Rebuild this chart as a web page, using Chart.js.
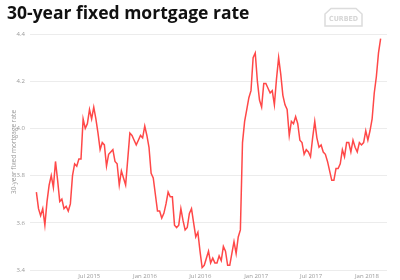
<!DOCTYPE html>
<html>
<head>
<meta charset="utf-8">
<script src="https://cdn.jsdelivr.net/npm/chart.js@4"></script>
<style>
  body { margin: 0; background: #fff; }
</style>
</head>
<body>
<canvas id="rateChart" width="400" height="280"></canvas>
<script>
// weekly Freddie Mac readings, first week below
const startDate = '2015-01-08';
const rates2015 = [3.73, 3.66, 3.63, 3.66, 3.59, 3.69, 3.76, 3.80, 3.75, 3.86, 3.78, 3.69, 3.70,
    3.66, 3.67, 3.65, 3.68, 3.80, 3.85, 3.84, 3.87, 3.87, 4.04, 4.00, 4.02, 4.08, 4.04, 4.09,
    4.04, 3.98, 3.91, 3.94, 3.93, 3.84, 3.89, 3.90, 3.91, 3.86, 3.85, 3.76, 3.82, 3.79, 3.76,
    3.87, 3.98, 3.97, 3.95, 3.93, 3.95, 3.97, 3.96, 4.01];
const rates2016 = [3.97, 3.92, 3.81, 3.79, 3.72, 3.65, 3.65, 3.62, 3.64, 3.68, 3.73, 3.71, 3.71,
    3.59, 3.58, 3.59, 3.66, 3.61, 3.57, 3.58, 3.64, 3.66, 3.60, 3.54, 3.56, 3.48, 3.41, 3.42,
    3.45, 3.48, 3.43, 3.45, 3.43, 3.43, 3.46, 3.44, 3.50, 3.48, 3.42, 3.42, 3.47, 3.52, 3.47,
    3.54, 3.57, 3.94, 4.03, 4.08, 4.13, 4.16, 4.30, 4.32];
const rates2017 = [4.20, 4.12, 4.09, 4.19, 4.19, 4.17, 4.15, 4.16, 4.10, 4.21, 4.30, 4.23, 4.14,
    4.10, 4.08, 3.97, 4.03, 4.02, 4.05, 4.02, 3.95, 3.94, 3.89, 3.91, 3.90, 3.88, 3.96, 4.03,
    3.96, 3.92, 3.93, 3.90, 3.89, 3.86, 3.82, 3.78, 3.78, 3.83, 3.83, 3.85, 3.91, 3.88, 3.94,
    3.94, 3.90, 3.95, 3.92, 3.90, 3.94, 3.93, 3.94, 3.99];
const rates2018 = [3.95, 3.99, 4.04, 4.15, 4.22, 4.32, 4.38];

const tickDates = ['2015-07-01', '2016-01-01', '2016-07-01', '2017-01-01', '2017-07-01', '2018-01-01'];
const tickLabels = ['Jul 2015', 'Jan 2016', 'Jul 2016', 'Jan 2017', 'Jul 2017', 'Jan 2018'];
const yTicks = [3.4, 3.6, 3.8, 4.0, 4.2, 4.4];

const rates = rates2015.concat(rates2016, rates2017, rates2018);

// days since 1 Jan 2015
function dayNum(s) {
    const p = s.split('-').map(Number);
    return (Date.UTC(p[0], p[1] - 1, p[2]) - Date.UTC(2015, 0, 1)) / 86400000;
}

const firstDay = dayNum(startDate);
const points = rates.map((r, i) => ({ x: firstDay + i * 7, y: r }));
const tickDays = tickDates.map(dayNum);

const tickFont = { family: '"Open Sans", sans-serif', size: 6 };

// little house logo in the corner
const logoPlugin = {
    id: 'logo',
    afterDraw(chart) {
        const c = chart.ctx;
        c.save();
        c.strokeStyle = '#dcdcdc';
        c.lineWidth = 1.5;
        c.beginPath();
        c.moveTo(325, 26);
        c.lineTo(325, 14);
        c.lineTo(331, 8.5);
        c.lineTo(356, 8.5);
        c.lineTo(362, 14);
        c.lineTo(362, 26);
        c.closePath();
        c.stroke();
        c.fillStyle = '#d6d6d6';
        c.font = 'bold 7px "DejaVu Sans Condensed", sans-serif';
        c.textAlign = 'center';
        c.textBaseline = 'middle';
        c.fillText('CURBED', 343.5, 19);
        c.restore();
    }
};

new Chart(document.getElementById('rateChart'), {
    type: 'line',
    data: {
        datasets: [{
            data: points,
            borderColor: '#ff4848',
            borderWidth: 1.5,
            pointRadius: 0,
            tension: 0,
            fill: false
        }]
    },
    options: {
        responsive: false,
        animation: false,
        layout: { padding: { left: 7, right: 13, top: 0, bottom: 0 } },
        plugins: {
            legend: { display: false },
            tooltip: { enabled: false },
            title: {
                display: true,
                text: '30-year fixed mortgage rate',
                align: 'start',
                color: '#111',
                font: { family: '"Open Sans", sans-serif', size: 17.5, weight: 'bold' },
                padding: { top: 4, bottom: 9 }
            }
        },
        scales: {
            x: {
                type: 'linear',
                min: -14,
                max: 1162,
                grid: { display: false, drawTicks: false },
                border: { display: false },
                afterBuildTicks(scale) {
                    scale.ticks = tickDays.map(v => ({ value: v }));
                },
                afterFit(scale) { scale.height = 10; },
                ticks: {
                    color: '#999',
                    font: tickFont,
                    padding: 3,
                    maxRotation: 0,
                    autoSkip: false,
                    callback: (v) => tickLabels[tickDays.indexOf(v)]
                }
            },
            y: {
                min: 3.4,
                max: 4.4,
                grid: { color: '#ececec', drawTicks: false },
                border: { display: false },
                afterBuildTicks(scale) {
                    scale.ticks = yTicks.map(v => ({ value: v }));
                },
                afterFit(scale) { scale.width = 23; },
                ticks: {
                    color: '#999',
                    font: tickFont,
                    padding: 5,
                    callback: (v) => v.toFixed(1)
                },
                title: {
                    display: true,
                    text: '30-year fixed mortgage rate',
                    color: '#999',
                    font: { family: '"Open Sans", sans-serif', size: 6.5 },
                    padding: { top: 3, bottom: 0 }
                }
            }
        }
    },
    plugins: [logoPlugin]
});
</script>
</body>
</html>
